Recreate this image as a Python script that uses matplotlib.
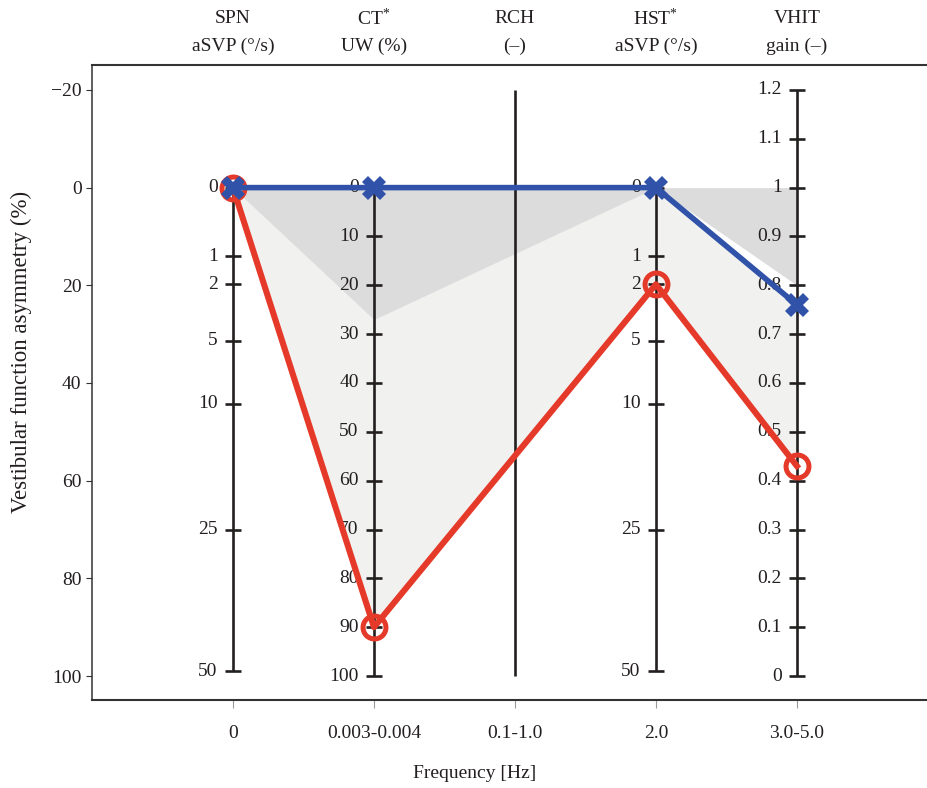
import numpy as np
import matplotlib
matplotlib.use("Agg")
import matplotlib.pyplot as plt

plt.rcParams['font.family'] = ['Liberation Serif', 'DejaVu Serif']
plt.rcParams['mathtext.fontset'] = 'custom'
plt.rcParams['mathtext.rm'] = 'Liberation Serif'
plt.rcParams['mathtext.it'] = 'Liberation Serif:italic'

# ---------------- data ----------------
categories = ["0", "0.003-0.004", "0.1-1.0", "2.0", "3.0-5.0"]
title_line1 = ["SPN", "CT$^{*}$", "RCH", "HST$^{*}$", "VHIT"]
title_line2 = ["aSVP (°/s)", "UW (%)", "(–)", "aSVP (°/s)", "gain (–)"]

asym_ticks = [-20, 0, 20, 40, 60, 80, 100]
svp_ticks = [0, 1, 2, 5, 10, 25, 50]
uw_ticks = [0, 10, 20, 30, 40, 50, 60, 70, 80, 90, 100]
gain_ticks = [0, 0.1, 0.2, 0.3, 0.4, 0.5, 0.6, 0.7, 0.8, 0.9, 1.0, 1.1, 1.2]
gain_labels = ["0", "0.1", "0.2", "0.3", "0.4", "0.5", "0.6", "0.7", "0.8",
               "0.9", "1", "1.1", "1.2"]

# measured tests (native units): SPN aSVP, CT UW, HST aSVP, VHIT gain
red_values = [0, 90, 2, 0.43]
blue_values = [0, 0, 0, 0.76]
normal_limit = [0, 27, 0, 0.8]

# ---------------- scale conversions ----------------
def svp_to_pct(v):
    return 100 * np.sqrt(np.asarray(v, float) / 51.0)

def uw_to_pct(v):
    return np.asarray(v, float)

def gain_to_pct(g):
    return (1 - np.asarray(g, float)) * 100

measured_conv = [svp_to_pct, uw_to_pct, svp_to_pct, gain_to_pct]
xpos = np.arange(1, len(categories) + 1)
measured_x = xpos[[0, 1, 3, 4]]

def to_pct(values):
    return np.array([f(v) for f, v in zip(measured_conv, values)], float)

red_pct = to_pct(red_values)
blue_pct = to_pct(blue_values)
normal_pct = to_pct(normal_limit)

# ---------------- figure ----------------
fig = plt.figure(figsize=(9.28, 7.88), dpi=100)
ax = fig.add_axes([92 / 928, 1 - 700 / 788, 1 - 92 / 928, (700 - 65) / 788])

axis_col = '#231f20'
spine_col = '#333333'
FS = 14

ax.set_xlim(0, 5.93)
ax.set_ylim(104.9, -25.1)

# shaded regions
ax.fill_between(measured_x, blue_pct, red_pct, color='#f1f1f0', lw=0, zorder=1)
ax.fill_between(measured_x, 0, normal_pct, color='#dcdcdd', lw=0, zorder=1.5)

# inner axes
ms_tick = 11
mew_tick = 1.9
lw_axis = 1.9

def draw_inner(x, tvals, tlabels, conv, lo, hi, show_ticks=True):
    ax.plot([x, x], [conv(lo), conv(hi)], color=axis_col, lw=lw_axis,
            solid_capstyle='butt', zorder=3)
    if not show_ticks:
        return
    ys = conv(tvals)
    ax.plot(np.full(len(ys), x), ys, ls='none', marker='_', ms=ms_tick,
            mew=mew_tick, color=axis_col, zorder=3)
    for y, lab in zip(ys, tlabels):
        ax.annotate(lab, xy=(x, y), xytext=(-11, 0), textcoords='offset points',
                    ha='right', va='center', fontsize=FS, color=axis_col,
                    zorder=3)

svp_labels = [str(t) for t in svp_ticks]
uw_labels = [str(t) for t in uw_ticks]
draw_inner(xpos[0], svp_ticks, svp_labels, svp_to_pct, 0, 50)
draw_inner(xpos[1], uw_ticks, uw_labels, uw_to_pct, 0, 100)
draw_inner(xpos[2], [], [], uw_to_pct, -20, 100, show_ticks=False)
draw_inner(xpos[3], svp_ticks, svp_labels, svp_to_pct, 0, 50)
draw_inner(xpos[4], gain_ticks, gain_labels, gain_to_pct, 1.2, 0)

# patient lines
ax.plot(measured_x, red_pct, color='#e53a2a', lw=4.4, marker='o', ms=16.5,
        mfc='none', mew=3.6, mec='#e53a2a', zorder=4)
ax.plot(measured_x, blue_pct, color='#3052a8', lw=4.0, marker='X', ms=17,
        mew=0, mfc='#3052a8', zorder=5)

# titles above each test axis
for x, l1, l2 in zip(xpos, title_line1, title_line2):
    ax.annotate(l2, xy=(x, 1), xycoords=('data', 'axes fraction'),
                xytext=(0, 13.2), textcoords='offset points', ha='center',
                va='center', fontsize=FS, color=axis_col, annotation_clip=False)
    ax.annotate(l1, xy=(x, 1), xycoords=('data', 'axes fraction'),
                xytext=(0, 33.4), textcoords='offset points', ha='center',
                va='center', fontsize=FS, color=axis_col, annotation_clip=False)

# main axes styling
ax.spines['right'].set_visible(False)
for s in ['left', 'top', 'bottom']:
    ax.spines[s].set_color(spine_col)
ax.spines['left'].set_linewidth(1.1)
ax.spines['top'].set_linewidth(1.5)
ax.spines['bottom'].set_linewidth(1.5)

ax.set_yticks(asym_ticks)
ax.tick_params(axis='y', direction='out', length=4.5, width=0.8,
               color=spine_col, labelsize=FS, labelcolor=axis_col, pad=3)
ax.set_xticks(xpos)
ax.set_xticklabels(categories)
ax.tick_params(axis='x', direction='out', length=6, width=0.8,
               color='#999999', labelsize=FS, labelcolor=axis_col, pad=12)

ax.set_xlabel("Frequency [Hz]", fontsize=FS, color=axis_col)
ax.xaxis.set_label_coords((475 - 92) / 836, (700 - 773) / 635)
ax.xaxis.label.set_va('center')
ax.set_ylabel("Vestibular function asymmetry (%)", fontsize=16.5, color=axis_col)
ax.yaxis.set_label_coords((21 - 92) / 836, (700 - 352) / 635)
ax.yaxis.label.set_va('center')

fig.savefig("out.png", dpi=100)
